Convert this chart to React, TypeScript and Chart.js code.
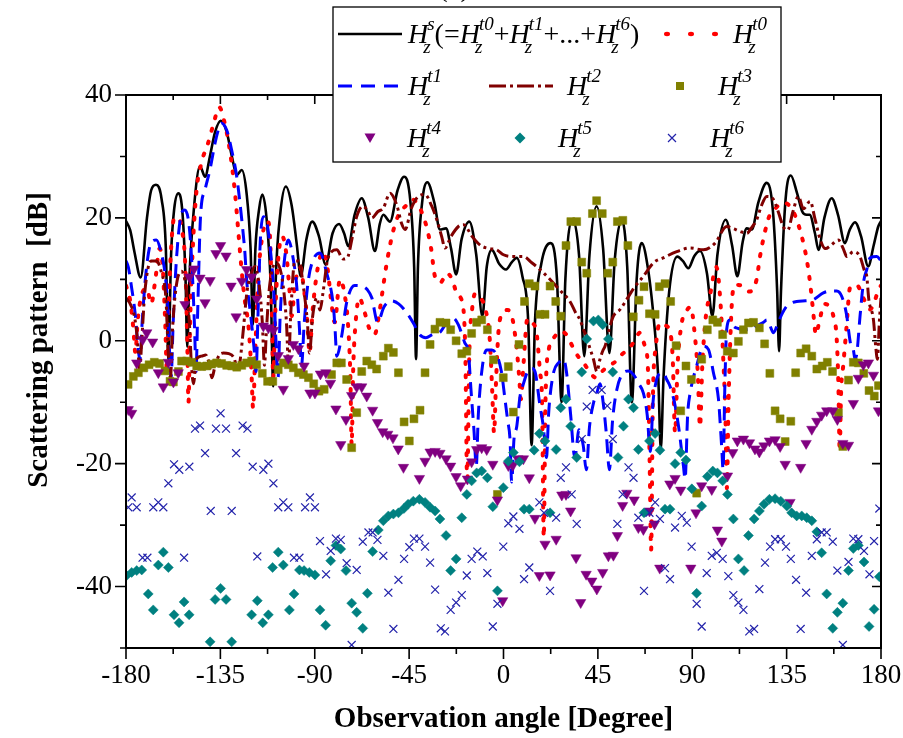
import React, { useEffect, useRef } from "react";
import { Chart, registerables } from "chart.js";

Chart.register(...registerables);

type Pt = [number, number];

const SERIF = '"Liberation Serif", "Times New Roman", Times, serif';

// ---------- axes ----------
const xMin = -180;
const xMax = 180;
const yMin = -50;
const yMax = 40;
const xMajorTicks = [-180, -135, -90, -45, 0, 45, 90, 135, 180];
const xMinorTicks = [-157.5, -112.5, -67.5, -22.5, 22.5, 67.5, 112.5, 157.5];
const yMajorTicks = [-40, -20, 0, 20, 40];
const yMinorTicks = [-50, -30, -10, 10, 30];
const xAxisTitle = "Observation angle [Degree]";
const yAxisTitle = "Scattering pattern  [dB]";
const panelLabel = "(a)";

// ---------- series: [angle (deg), level (dB)] ----------
const hsCurve: Pt[] = [
  [-180, 19.5], [-178, 18], [-176, 14.5], [-173, 10.3], [-170, 20], [-168, 24.5], [-165.7, 25.4], [-163, 23], [-161, 15], [-159.8, -3],
  [-158.5, 14], [-157, 21.5], [-155, 24], [-153, 20.5], [-151.6, 10], [-150.8, -1], [-149.8, 10], [-147.5, 22], [-144.7, 28.4], [-142.3, 26.7],
  [-140, 30], [-137.5, 34], [-134.8, 35.8], [-132, 34], [-129.5, 30], [-127.2, 27], [-124.8, 27.8], [-122.5, 24], [-120.6, 15], [-119.5, 2.6],
  [-118.3, 15], [-116.5, 21.5], [-115, 23.8], [-113, 20], [-111, 9], [-109.8, -7.4], [-108.6, 10], [-106.5, 20.5], [-103.8, 25.1], [-101, 22],
  [-98.5, 15.5], [-96.7, 10.5], [-94, 16.5], [-91.2, 19.4], [-88, 17], [-84.8, 12.4], [-81.5, 17.5], [-78.4, 19], [-76, 17.5], [-74, 15.4],
  [-71, 20.5], [-67.6, 23.2], [-64.5, 20], [-61.3, 14.6], [-59, 19], [-57.3, 20.5], [-54.1, 19.4], [-50.5, 24.5], [-47.4, 26.7], [-44.5, 23],
  [-42.6, 12], [-41.7, -3], [-40.8, 12], [-38.8, 22.5], [-36.3, 25.8], [-33, 22.5], [-30.3, 18.1], [-27.4, 18.3], [-25, 15], [-22.6, 10.8],
  [-20, 16.5], [-16.3, 19.4], [-13, 14], [-10.1, 4], [-8, 12], [-5.6, 14.8], [-2, 12.5], [1.2, 11.6], [4, 12.8], [6.3, 13.5],
  [9, 10.5], [11.8, 3], [13.4, -17], [15, 3], [18, 12.5], [22.5, 15.9], [25.5, 10], [27.7, -10], [29.5, 10], [33, 19.7],
  [36, 14], [38.5, -2.5], [41, 14], [44.4, 21.9], [47.5, 15], [50.5, -2], [53, 13], [56.4, 19.7], [59, 12], [61.2, -10],
  [63.5, 10], [65.9, 15.9], [69, 11.5], [71.8, 3], [73.8, -6], [75, -17.7], [76.3, -6], [79, 8], [82.9, 13.7], [85.5, 13],
  [88.1, 11.8], [91, 13.8], [93.7, 14.6], [97, 11], [99.6, 4], [102, 14], [106, 19.7], [109, 15.5], [111.5, 10.5], [114, 16],
  [116, 18.3], [118.4, 18.1], [121.5, 22.5], [125.5, 25.7], [128.5, 21], [130.5, 8], [131.4, -1.7], [132.3, 8], [134.5, 23], [137, 26.9],
  [140, 24], [142.5, 21], [144.5, 20.5], [146, 20.5], [148.5, 17.5], [150.2, 14.8], [153, 20], [156.5, 23.2], [159.5, 20.5], [162.8, 15.9],
  [165, 18], [167.6, 19.3], [170.5, 17], [173.9, 12.1], [176.5, 15.5], [178.7, 18.6], [180, 19.5],
];

const t0Curve: Pt[] = [
  [-180, 9], [-178, 6.5], [-176.5, 2], [-175.5, -2], [-174.5, 3], [-172.5, 7.5], [-170, 8.5], [-168, 6], [-166, 10], [-164, 15],
  [-162.5, 12], [-161.3, 3], [-160.5, -5], [-159.7, 5], [-158.5, 15], [-157, 20], [-155, 20], [-153.3, 18], [-151.7, 12], [-150.8, 0],
  [-150.2, -10], [-149.5, 2], [-148.3, 14], [-146.5, 24], [-144, 29], [-141, 32], [-138.5, 35], [-135.5, 38], [-133, 35.5], [-130.5, 31],
  [-128, 24], [-126.5, 18], [-125, 12], [-123.5, 7], [-121.5, 2], [-120.2, -5], [-119.4, -11], [-118.4, -2], [-117, 10], [-115, 17],
  [-112.5, 19.5], [-111, 14], [-110.3, 2], [-109.8, -6], [-109, 3], [-107.5, 13], [-105.5, 17], [-103.5, 14], [-102, 8], [-101, 4],
  [-99.5, 9], [-97, 12], [-95, 8], [-93.5, 3], [-92.5, -2], [-91, 5], [-88.5, 12], [-86, 14.5], [-84, 12], [-82, 6],
  [-80.5, 3], [-78, 10], [-76, 8], [-74, 2], [-73, -6], [-72.4, -17], [-71.7, -5], [-70.5, 3], [-68.8, 7], [-66.5, 5],
  [-64, 2], [-61.5, 1], [-59, 5], [-57.3, 9], [-55.5, 13], [-52.5, 18], [-50, 20.5], [-46.5, 22], [-43.5, 23], [-41, 22.3],
  [-38.5, 20.5], [-36.5, 18.3], [-34.5, 15], [-32.7, 10.5], [-30, 9.5], [-27, 11], [-24.5, 10], [-22, 7.5], [-19.5, 6], [-18.2, -2],
  [-17.3, -23.5], [-16.3, -2], [-15, 5], [-13.5, 7.7], [-11, 7], [-8.5, 5], [-6.5, 0], [-5.4, -8], [-4.5, -15], [-3.6, -7],
  [-2.5, 1], [-0.9, 4.3], [2, 5], [4, 4], [5.5, 1], [6.5, -2], [7.5, -6], [8.3, -9.5], [9.5, -4], [11.4, 3.6],
  [13.5, 3], [15.8, 1.2], [17.4, -5], [18.4, -10], [19.2, -32], [20, -10], [21.7, -1.2], [24, 0.5], [27, 1.5], [30, 1],
  [33, -1], [35.5, -2.5], [38, -3.5], [41, -5], [44, -6], [47, -5], [50, -4], [53, -3.5], [56.5, -2.2], [59.6, -1.4],
  [62.5, 0], [65, 1.3], [67.5, -1], [68.8, -4], [69.7, -20], [70.4, -34], [71.2, -10], [72.7, -0.8], [74.6, 2.9], [77, 2.5],
  [79.4, 1.5], [80.7, -3], [81.8, -15], [83, -4], [85, 2.9], [87.5, 5], [89.3, 5.5], [91.2, 1], [92.6, -5], [93.7, -14],
  [94.8, -4], [96.5, 4], [98.5, 7.5], [101.5, 12], [103.5, 6], [104.8, -3], [105.8, -12], [106.5, -24], [107.3, -10], [108.8, 5.6],
  [110.4, 9.1], [113.5, 9], [117.2, 8], [120.7, 10], [122.3, 13.7], [124.7, 17.8], [127, 20.5], [129.5, 21.5], [133.5, 22.5], [138.2, 21],
  [142.2, 17], [144.6, 13.2], [146.2, 9.4], [147.5, 5.3], [149, 1], [150.5, 3], [153, 6], [155.5, 5.5], [157.3, 4], [158.9, 0.2],
  [159.7, -7.4], [160.3, -18], [161, -8], [162, -4], [163.5, 2], [165.2, 8.6], [168.4, 9.1], [171.5, 7], [174.8, 5.1], [176.5, 6],
  [178.8, 8.3], [180, 9],
];

const t1Curve: Pt[] = [
  [-180, 13], [-178.9, 12], [-177.3, 8.6], [-175.5, 4], [-174.3, -1], [-173.3, -3], [-172.3, 3], [-170.5, 11], [-168, 16], [-165.5, 16.4],
  [-163, 14], [-161.4, 11], [-160, 5], [-159.2, -2], [-158.5, -6], [-157.5, 3], [-156, 13], [-154, 20], [-152, 21.3], [-150, 19],
  [-148.5, 12], [-147.3, 2], [-146.6, -5], [-145.8, 5], [-144.5, 20], [-142.3, 24.6], [-140, 27.8], [-137, 33], [-134.5, 35.4], [-132, 34.3],
  [-129.6, 31], [-127.2, 26.7], [-124.8, 19.7], [-123.3, 14.3], [-122.5, 10], [-120.5, 4], [-119, -1], [-118, -5], [-117, 5], [-116, 16],
  [-114.5, 20.2], [-113, 19.5], [-111, 14.3], [-109.7, 8.9], [-108.5, 0], [-107.5, -6], [-106.5, 4], [-104.5, 13], [-102.6, 16.4], [-100.2, 13.2],
  [-98.6, 8.9], [-97.3, 2], [-96.3, -4], [-95, 3], [-93, 10], [-90.7, 13.2], [-87.5, 14.3], [-84.3, 11], [-81.1, 5.6], [-80.3, 1.8],
  [-79.5, -2.5], [-77.2, 0.7], [-74.8, 6.2], [-71, 9], [-67.6, 8.9], [-64.9, 8.3], [-62.8, 7], [-60, 3], [-57, 5.5], [-53.5, 6.5],
  [-50, 6], [-46, 4.5], [-43, 2.9], [-40, 1], [-37, 0.5], [-34, 1], [-30, 1.5], [-27, 3], [-24, 3.7], [-21.5, 2.6],
  [-18.5, -0.3], [-16.7, -2], [-15.5, -8], [-14, -15], [-13, -20.5], [-12, -12], [-10, -4], [-8, -1.5], [-5.5, -1.5], [-3, -2.5],
  [-1, -5], [0.7, -9.5], [2, -13], [3.1, -16], [3.9, -23], [5, -16], [6.3, -14], [7.9, -9], [9.5, -7], [11.5, -5],
  [13.5, -4.5], [15, -5], [17.4, -10.6], [19, -14], [20.5, -19], [21.5, -12], [22.2, -9], [24, -5], [26.2, -3.6], [28.6, -3],
  [30, -5], [32, -12], [34, -19], [36, -14.5], [38, -17], [39.5, -21], [41, -14], [43, -10], [44.5, -8.5], [46, -7],
  [47.5, -10], [49, -15], [50.5, -21], [52, -13], [54, -8], [56.5, -5.5], [59.5, -4.9], [62, -5.5], [64.5, -7], [66.7, -8.5],
  [68.5, -12], [70, -18], [71.3, -10], [72.3, -7.4], [74, -5.5], [76.2, -5.2], [77.8, -6.3], [79.4, -7.4], [81.5, -10], [83.5, -14],
  [85.8, -20.4], [86.6, -22.5], [87.8, -12], [89, -8.5], [92.1, -4.1], [95.3, -0.9], [97.7, -1.4], [100.1, -5.2], [102.5, -9.5], [103.3, -13.3],
  [104.1, -17.7], [104.7, -21], [105.5, -8], [106.4, 1.8], [108, 3.4], [109.6, 2.4], [112, 2], [115, 1.8], [118.4, 1.8], [121, 2.5],
  [124, 3], [125.5, 3.4], [127, 2.5], [128.7, 1.3], [131, 3], [133, 4.5], [135, 5.6], [139.8, 6.4], [144, 6.5], [147.8, 6.7],
  [152.5, 7.8], [156, 8.1], [158.9, 8.1], [161.3, 7.2], [163.7, 4], [164.5, 1.8], [165.5, -0.5], [166.8, -1.4], [167.6, -3], [168.5, -2],
  [170, 4], [171.6, 9.4], [173.2, 11.6], [174.8, 13.5], [178, 13.7], [180, 13],
];

const t2Curve: Pt[] = [
  [-180, 7], [-178, 6], [-176, 4], [-174.5, 0], [-173.5, -5], [-172.5, 0], [-171, 8], [-168, 13], [-165.5, 13], [-163, 11],
  [-161, 7], [-159.8, -2], [-158.8, -6], [-157.8, 2], [-156, 9], [-153.5, 11.3], [-151.5, 9], [-149.8, 3], [-148.8, -4], [-147.8, -7],
  [-146.5, -3], [-144, -2.5], [-142, -2.3], [-140.5, -3.5], [-139, -6], [-137.5, -4], [-135.5, -2.3], [-133.5, -2], [-131, -2.1], [-128.5, -2.8],
  [-126.5, -5], [-125.5, -3], [-124, 2], [-122.3, 8], [-120.2, 11], [-118.5, 12.1], [-116.5, 9], [-115, 3], [-114, -4], [-113, 2],
  [-111.5, 9], [-108.5, 12.7], [-105.5, 10], [-103.5, 3], [-102.5, -4], [-101.5, 4], [-99.5, 13], [-97.5, 13], [-95.5, 9], [-93.5, 3],
  [-92.5, -2], [-91, 4], [-89, 7], [-87.5, 5], [-86, 8], [-84, 13], [-82, 14.5], [-79.5, 14.8], [-76.5, 13.3], [-74.5, 13.5],
  [-72, 17], [-70, 20.2], [-67, 21.9], [-64.5, 21], [-62.8, 20], [-60, 21], [-57.3, 21.6], [-54.1, 24], [-50.9, 22.1], [-48.5, 19],
  [-46.9, 18.1], [-44, 21.5], [-40.6, 23.5], [-37.4, 23.8], [-34.2, 21.9], [-31.8, 19.7], [-29.5, 17], [-27.9, 15.1], [-25, 17], [-21.5, 18.6],
  [-19.1, 18.9], [-15, 17], [-12.5, 16], [-10.4, 15.4], [-6.5, 15], [-3.2, 14.8], [0, 14], [3.9, 13.7], [9.5, 13.7], [13.5, 12.7],
  [17.4, 11.6], [23, 9.7], [27.5, 8], [31.7, 6.4], [34.5, 4.5], [36.5, 3.4], [38.5, 1.5], [39.7, 0.7], [41, -1], [42.9, -3],
  [44.5, -5], [46, -3], [47.5, -1.5], [48.4, -0.9], [50.5, 2], [52.4, 4], [55.6, 5.1], [58.7, 6.7], [62, 8.5], [66.7, 10.5],
  [71.5, 12.7], [76.2, 13.5], [82.6, 14.5], [88.9, 15.1], [95.3, 14.8], [100.9, 15.9], [106.4, 18.6], [110, 18.2], [112.8, 17.8], [116, 17.5],
  [118.5, 18.5], [120.7, 19.7], [123, 22], [125.5, 23.5], [128.7, 23], [131, 21], [133.5, 18.5], [135.5, 18], [138, 21], [140.6, 23.5],
  [143, 21.5], [146.2, 22.7], [148.6, 19.7], [151, 16.5], [153.5, 15], [156, 15.5], [159.7, 16.4], [162, 15], [163.7, 13.7], [166.8, 14.5],
  [170, 13.7], [172, 11.5], [173.2, 10.5], [174.2, 6.7], [176.4, 3.4], [177.5, -1], [178.3, -3], [179.2, 3], [180, 7],
];

const t3Points: Pt[] = [
  [-179, -7.1], [-176.5, -5.8], [-174.1, -5.2], [-171.5, -4.4], [-169, -3.9], [-166.5, -3.5], [-164, -3.7], [-161.4, -4.9], [-159, -6.6], [-157.4, -6.7],
  [-155, -5], [-153.5, -3.3], [-151.1, -3.3], [-148.7, -3.5], [-146.3, -4.1], [-143.9, -4.2], [-141.5, -4.1], [-139.2, -3.8], [-136.8, -3.6], [-134.4, -3.7],
  [-132, -4], [-129.6, -4.1], [-127.2, -4.3], [-124.8, -4], [-122.5, -3.6], [-120.1, -3.3], [-117.7, -3.9], [-115, -5.3], [-112.5, -6.6], [-110, -6.6],
  [-107.4, -4.7], [-105, -3.6], [-102.6, -3.9], [-100.2, -4.4], [-97.8, -5.2], [-95.4, -5.5], [-93, -6], [-90.5, -7], [-88, -8.2], [-85.5, -7.9],
  [-82, -5.5], [-79.5, -3.6], [-77.3, -3.6], [-74.8, -6.3], [-72.4, -17.4], [-70, -11.7], [-67.6, -5], [-65.2, -3.3], [-62.8, -3.9], [-60.5, -4.6],
  [-57.3, -2.5], [-54.9, -1.2], [-52.5, -1.9], [-50.1, -5.2], [-47.4, -13.2], [-44.9, -16.3], [-42.7, -12.7], [-39.8, -11.3], [-37.4, -5.2], [-35, -0.6],
  [-32.7, 1.9], [-30.3, 3], [-27.4, 2.9], [-25.2, 1.8], [-22.6, 0], [-19.9, -2.1], [-17.5, -1.7], [-15.2, 1.2], [-12.8, 3], [-10.4, 3.4],
  [-7.7, 1.8], [-4.8, -3.1], [-2.9, -25], [-0.1, -6], [2.3, -4.2], [4.7, -11.6], [7.4, -0.6], [10, 6.4], [12.3, 9.3], [15, 8.9],
  [17.4, 4.3], [19.8, 4.3], [22.2, 8.9], [24.9, 6.4], [27.3, 4], [29.8, 15.5], [32.1, 19.4], [34.9, 19.4], [37.3, 12.8], [39.7, 11],
  [42.4, 20.7], [44.4, 22.8], [47.1, 20.7], [49.7, 11], [52.1, 12.8], [54.3, 19.4], [56.9, 19.6], [59.3, 15.5], [61.9, 3.9], [64.6, 6.6],
  [67, 8.8], [69.6, 4.4], [72.3, 4.3], [74.3, 8.8], [77, 9.3], [79.7, 6.4], [82.3, -0.8], [84.5, -11.4], [87, -4.1], [89.6, -6.3],
  [92.1, -24.8], [94.5, -3], [97.2, 1.8], [99.8, 3.4], [102, 3], [104.5, 1], [106.7, -1.7], [109.6, -2], [112, -0.1], [114.4, 1.8],
  [116.8, 2.9], [119.2, 3], [122, 2.1], [124.5, -0.5], [127, -5.3], [129.5, -11.4], [131.9, -12.7], [134.3, -16.4], [137, -13.1], [139.3, -5.2],
  [141.7, -2], [144.3, -1.3], [147, -2.5], [149.4, -4.6], [152, -4.1], [154.4, -3.5], [156.9, -5], [159.7, -11.7], [161.8, -17.2], [164.5, -6.4],
  [166.8, -3.5], [169.2, -3.6], [171.8, -5.3], [174.3, -8.1], [176.8, -9], [178.8, -7.3],
];

const t4Points: Pt[] = [
  [-178.9, -11.2], [-177.3, -11.8], [-174.9, -3.6], [-172, 0.2], [-170.1, 1.3], [-167.3, -0.2], [-164.6, -5.2], [-162.2, -7.5], [-159.8, -3.5], [-157.4, -6.7],
  [-155.1, -5.2], [-151.9, 5.9], [-149.8, 10.4], [-147.6, 11.7], [-144.7, 10.2], [-142.3, 6.2], [-139.9, 9.8], [-137.1, 14.2], [-134.9, 15.5], [-132.3, 13.8],
  [-129.9, 8.9], [-127.5, 3.9], [-124.8, 9.7], [-122.5, 11.6], [-120.1, 10.4], [-117.7, 6.8], [-114.5, 2.4], [-112.1, 2.1], [-109.7, 1.7], [-107.4, -2.4],
  [-105, -7.9], [-102.6, -2.9], [-100.2, -0.6], [-97.8, -1.3], [-95.1, -4.1], [-92.3, -8.5], [-89.9, -8.5], [-87.3, -5.4], [-84.7, -5.2], [-82.5, -6.9],
  [-79.9, -11.1], [-77.6, -16.9], [-75.1, -12.8], [-72.4, -8.9], [-70, -7.5], [-67.6, -7.5], [-65.2, -9], [-62.4, -11.3], [-60.1, -13.3], [-57.6, -14.8],
  [-55.2, -15.2], [-52.7, -15.8], [-50.2, -17.6], [-47.7, -20.6], [-40.1, -22.4], [-37.4, -19.6], [-35, -18.1], [-32.6, -18], [-30.3, -18.3], [-27.4, -19.2],
  [-25.2, -20.4], [-22.6, -22.1], [-20.4, -23.6], [-17.2, -22.5], [-15.2, -19.7], [-12.8, -17.7], [-10.4, -17.4], [-8, -17.7], [-5.1, -20.1], [-2.9, -25.9],
  [-0.4, -42.3], [2.3, -20.3], [4.4, -20.3], [6.8, -19.2], [9.5, -19.2], [12.3, -22.3], [15, -28.9], [17.1, -38.2], [19.8, -33.1], [22.2, -38.1],
  [25.1, -32.3], [27.8, -25.1], [29.8, -25], [32, -27.7], [34.6, -35.3], [36.8, -42.6], [39.4, -38], [42.1, -39.1], [44.5, -40.4], [47.3, -37.7],
  [50, -35], [52.4, -34.9], [54.3, -31.7], [56.8, -26.8], [58.8, -24.8], [62.3, -25.9], [64.3, -30.4], [66.7, -30.7], [69.6, -27.7], [72, -29.8],
  [74.5, -37], [79.3, -23.3], [81.8, -22.4], [84.5, -24.3], [89.3, -37], [91.8, -28], [94.5, -23.6], [99.3, -24.2], [102, -30.8], [104.1, -32.6],
  [106.8, -22], [109.3, -18.2], [111.5, -16.3], [114.4, -16], [117.3, -16.6], [119.9, -17.6], [122, -18.1], [124.2, -17.1], [126.8, -16.3], [129.5, -16.1],
  [131.9, -17.2], [134.3, -20.1], [136.6, -26.3], [141.7, -20.6], [144.3, -16.7], [147, -14.4], [149.4, -13.1], [151.7, -12.1], [154.1, -11.4], [157, -11.4],
  [159.2, -12.8], [161.8, -16.7], [164.5, -17], [166.8, -10.2], [169.2, -6.1], [171.6, -3.9], [174, -3.6], [176.4, -5.6], [178.8, -11.4],
];

const t5Points: Pt[] = [
  [-179.7, -38.2], [-177.3, -37.7], [-174.9, -37.4], [-172.5, -37.3], [-169.4, -41.2], [-167, -43.8], [-164.6, -36.5], [-162.2, -34.4], [-159.8, -36.9], [-157.1, -44.6],
  [-154.7, -45.9], [-152.3, -42.5], [-149.9, -44.6], [-139.9, -49], [-137.5, -42.1], [-134.9, -40.3], [-132.3, -42.1], [-129.6, -49], [-120.1, -44.6], [-117.4, -42.3],
  [-114.8, -45.9], [-112.1, -44.6], [-110.1, -36.9], [-107.4, -34.4], [-105, -36.5], [-102.1, -43.8], [-99.9, -41.2], [-97.3, -37.3], [-95.1, -37.4], [-92.6, -37.7],
  [-89.9, -38.1], [-87.5, -43.8], [-84.8, -46.3], [-82.4, -35.8], [-79.9, -33.3], [-77.6, -33.9], [-75.1, -37.4], [-72.4, -42.7], [-70, -44.2], [-67.1, -46.8],
  [-64.9, -41.1], [-62.4, -34.3], [-59.7, -30.8], [-57.3, -29.3], [-54.9, -28.5], [-52.5, -28.2], [-50.1, -28], [-47.5, -27.3], [-45.5, -26.6], [-43, -26.1],
  [-40.1, -25.8], [-37.4, -26.3], [-35, -27.1], [-32.6, -27.7], [-30.3, -29], [-27.4, -31.7], [-25.2, -37.4], [-22.6, -35.5], [-19.9, -28.8], [-17.5, -25],
  [-15.2, -22.8], [-12.8, -21.5], [-10.4, -21.2], [-7.7, -22.3], [-5.1, -27], [-2.9, -40.7], [-0.1, -23.9], [2.3, -19.6], [4.7, -18.2], [7.6, -19.7],
  [9.8, -27.4], [12.3, -27.4], [14.6, -17.8], [17.1, -15.1], [19.8, -16.3], [22.2, -28], [25.1, -17.7], [27.3, -10.9], [29.8, -9.5], [32, -13.9],
  [34.9, -19], [37.3, -5.1], [39.7, 0.3], [42.9, 3.2], [45.2, 3.4], [47.3, 2.6], [50, 0.3], [52.1, -5.1], [54.6, -19], [57.2, -13.9],
  [59.6, -9.5], [62, -10.9], [64.3, -17.7], [67, -28], [69.6, -16.3], [72.3, -15.1], [74.6, -17.8], [77, -27.4], [79.4, -27.4], [81.8, -20],
  [84.5, -18.2], [87, -19.4], [89.8, -24.1], [92.1, -41.1], [94.5, -26.9], [97.2, -22.1], [99.8, -21.2], [102, -21.5], [104.5, -22.8], [106.8, -25],
  [109.6, -29], [112, -35.5], [114.7, -37.4], [116.8, -31.7], [119.5, -29], [122, -27.7], [124.2, -26.6], [126.8, -25.8], [129.5, -25.7], [132.2, -26.1],
  [135.1, -26.9], [137.4, -28], [139.8, -28.5], [142.2, -28.5], [144.6, -28.8], [147, -29.3], [149.4, -31.1], [151.7, -34.5], [154.1, -41.2], [157, -46.8],
  [159.2, -44.2], [161.8, -42.7], [164.5, -37.4], [166.8, -33.8], [169.2, -33.3], [171.9, -36], [174.3, -46.5], [176.7, -43.7], [179.2, -38.4],
];

const t6Points: Pt[] = [
  [-178.9, -27.1], [-177.3, -25.5], [-174.9, -27.1], [-172.1, -35.3], [-169.8, -35.3], [-167, -27.1], [-164.6, -26.3], [-162.2, -27.1], [-159.8, -23.2], [-157.1, -20.1],
  [-154.6, -21], [-152.3, -35.3], [-149.8, -20.5], [-147.1, -14.3], [-144.7, -13.8], [-142.3, -18.3], [-139.6, -27.7], [-137.1, -14.3], [-134.9, -11.8], [-132.3, -14.3],
  [-129.6, -27.7], [-127.5, -18.3], [-124.4, -13.8], [-122.1, -14.3], [-119.6, -20.5], [-117.4, -35.1], [-114.5, -21], [-112.1, -20], [-109.7, -23.2], [-107.4, -27.1],
  [-105, -26.3], [-102.6, -27.1], [-99.9, -35.3], [-97.3, -35.3], [-94.6, -27.1], [-92.3, -25.5], [-89.9, -27.1], [-87.5, -32.6], [-84.6, -38], [-82.4, -34.2],
  [-79.9, -32.2], [-77.6, -32.4], [-74.8, -36.2], [-72.4, -49.5], [-70, -37.3], [-67.1, -32.7], [-64.4, -31.2], [-62.4, -31.2], [-60.1, -32.4], [-57.3, -35],
  [-54.9, -41], [-52.5, -46.9], [-50.1, -38.9], [-47.4, -35.5], [-44.9, -33.6], [-42.7, -32.2], [-40.1, -32.2], [-37.4, -33.5], [-35, -36.1], [-32.6, -40.5],
  [-29.9, -46.8], [-27.9, -47.3], [-25.2, -43.8], [-22.6, -42.6], [-19.9, -41.4], [-17.5, -38.2], [-15.2, -35.5], [-12.5, -34.3], [-9.9, -35.1], [-7.7, -37.8],
  [-5.1, -46.5], [-2.9, -42.8], [-0.1, -33.5], [2.3, -29.7], [4.7, -28.6], [7.6, -30.6], [9.8, -38.8], [12.3, -36.9], [17.1, -26.3], [19.3, -28],
  [22.2, -40.7], [25.1, -28.8], [27.3, -22.3], [29.8, -20.6], [32.5, -25], [34.9, -29.8], [37.3, -16], [39.7, -10.7], [42.5, -8], [46.8, -8],
  [49.5, -10.6], [52.1, -16], [54.3, -29.8], [56.8, -25], [59.6, -20.6], [62, -22.3], [64.3, -28.8], [67, -40.7], [69.6, -28], [72.3, -26.3],
  [74.6, -29], [77, -37], [79.4, -38.8], [81.8, -30.4], [85, -28.5], [87.4, -29.6], [89.7, -33.5], [92.1, -42.8], [94.5, -46.5], [96.9, -37.8],
  [99.3, -35], [101.7, -34.5], [104.5, -35.5], [107.2, -38.3], [109.6, -41.4], [112, -42.6], [114.4, -43.8], [117.2, -47.3], [119.5, -46.9], [122, -40.4],
  [124.7, -36.1], [127.1, -33.5], [129.5, -32.3], [132.2, -32.3], [134.7, -33.5], [137, -35.5], [139.5, -38.9], [141.7, -46.9], [144.3, -41], [147, -35],
  [149.4, -32.3], [151.7, -31.2], [154.1, -31.2], [157, -32.7], [159.2, -37.4], [161.8, -49.5], [164.5, -36], [166.8, -32.2], [169.2, -32.3], [171.9, -34.2],
  [174.5, -38], [176.7, -32.6], [179.2, -27.3],
];

// ---------- colours ----------
const C_HS = "#000000";
const C_T0 = "#ff0000";
const C_T1 = "#0000ff";
const C_T2 = "#800000";
const C_T3 = "#808000";
const C_T4 = "#800080";
const C_T5 = "#008080";
const C_T6 = "#2222aa";

const toXY = (arr: Pt[]) => arr.map(([x, y]) => ({ x, y }));

function drawHz(ctx: CanvasRenderingContext2D, x: number, base: number, sup: string): number {
  ctx.textAlign = "left";
  ctx.textBaseline = "alphabetic";
  ctx.font = `italic 28px ${SERIF}`;
  ctx.fillText("H", x, base);
  const wH = ctx.measureText("H").width;
  ctx.font = `italic 19px ${SERIF}`;
  ctx.fillText(sup, x + wH - 1, base - 13);
  ctx.fillText("z", x + wH - 5, base + 10);
  const w = Math.max(ctx.measureText(sup).width, ctx.measureText("z").width - 4);
  return x + wH - 1 + w;
}

function drawText(ctx: CanvasRenderingContext2D, s: string, x: number, base: number): number {
  ctx.font = `28px ${SERIF}`;
  ctx.textAlign = "left";
  ctx.fillText(s, x, base);
  return x + ctx.measureText(s).width;
}

function drawLegend(ctx: CanvasRenderingContext2D) {
  const x0 = 333, y0 = 7, x1 = 781, y1 = 162;
  ctx.save();
  ctx.fillStyle = "#ffffff";
  ctx.fillRect(x0, y0, x1 - x0, y1 - y0);
  ctx.strokeStyle = "#000";
  ctx.lineWidth = 1.3;
  ctx.strokeRect(x0, y0, x1 - x0, y1 - y0);

  const r1 = 34, r2 = 86, r3 = 138;
  const b1 = 43, b2 = 95, b3 = 147;

  // row 1: total (solid black)
  ctx.strokeStyle = C_HS;
  ctx.lineWidth = 2.5;
  ctx.setLineDash([]);
  ctx.beginPath(); ctx.moveTo(338, r1); ctx.lineTo(402, r1); ctx.stroke();
  ctx.fillStyle = "#000";
  let x = drawHz(ctx, 408, b1, "s");
  x = drawText(ctx, "(=", x, b1);
  x = drawHz(ctx, x, b1, "t0");
  x = drawText(ctx, "+", x, b1);
  x = drawHz(ctx, x, b1, "t1");
  x = drawText(ctx, "+...+", x, b1);
  x = drawHz(ctx, x, b1, "t6");
  drawText(ctx, ")", x, b1);

  // red dotted
  ctx.fillStyle = C_T0;
  [667, 691, 715].forEach((cx) => {
    ctx.beginPath(); ctx.ellipse(cx, r1, 3, 2.2, 0, 0, Math.PI * 2); ctx.fill();
  });
  ctx.fillStyle = "#000";
  drawHz(ctx, 733, b1, "t0");

  // row 2: blue dashed
  ctx.strokeStyle = C_T1;
  ctx.lineWidth = 3;
  ctx.setLineDash([14, 9]);
  ctx.beginPath(); ctx.moveTo(338, r2); ctx.lineTo(402, r2); ctx.stroke();
  ctx.setLineDash([]);
  drawHz(ctx, 408, b2, "t1");

  // dark red dash-dot
  ctx.strokeStyle = C_T2;
  ctx.lineWidth = 3;
  ctx.setLineDash([17, 4, 3, 4]);
  ctx.beginPath(); ctx.moveTo(489, r2); ctx.lineTo(553, r2); ctx.stroke();
  ctx.setLineDash([]);
  drawHz(ctx, 567, b2, "t2");

  // olive square
  ctx.fillStyle = C_T3;
  ctx.fillRect(680 - 4, r2 - 4, 8, 8);
  ctx.fillStyle = "#000";
  drawHz(ctx, 718, b2, "t3");

  // row 3: purple down triangle
  ctx.fillStyle = C_T4;
  ctx.beginPath(); ctx.moveTo(370 - 5.5, r3 - 4.5); ctx.lineTo(370 + 5.5, r3 - 4.5); ctx.lineTo(370, r3 + 5); ctx.closePath(); ctx.fill();
  ctx.fillStyle = "#000";
  drawHz(ctx, 407, b3, "t4");

  // teal diamond
  ctx.fillStyle = C_T5;
  ctx.beginPath(); ctx.moveTo(520, r3 - 5.5); ctx.lineTo(525.5, r3); ctx.lineTo(520, r3 + 5.5); ctx.lineTo(514.5, r3); ctx.closePath(); ctx.fill();
  ctx.fillStyle = "#000";
  drawHz(ctx, 558, b3, "t5");

  // blue x
  ctx.strokeStyle = C_T6;
  ctx.lineWidth = 1.2;
  ctx.beginPath();
  ctx.moveTo(668, r3 - 4); ctx.lineTo(676, r3 + 4);
  ctx.moveTo(676, r3 - 4); ctx.lineTo(668, r3 + 4);
  ctx.stroke();
  ctx.fillStyle = "#000";
  drawHz(ctx, 710, b3, "t6");
  ctx.restore();
}

const framePlugin = {
  id: "frame",
  afterDraw(chart: any) {
    const { ctx, chartArea: ca } = chart;
    const xs = chart.scales.x;
    const ys = chart.scales.y;
    ctx.save();
    ctx.strokeStyle = "#000";
    ctx.lineWidth = 2;
    ctx.setLineDash([]);
    ctx.strokeRect(ca.left, ca.top, ca.right - ca.left, ca.bottom - ca.top);

    ctx.lineWidth = 1.6;
    ctx.beginPath();
    xMajorTicks.forEach((v) => {
      const p = xs.getPixelForValue(v);
      ctx.moveTo(p, ca.bottom); ctx.lineTo(p, ca.bottom + 11);
      ctx.moveTo(p, ca.top); ctx.lineTo(p, ca.top + 9);
    });
    xMinorTicks.forEach((v) => {
      const p = xs.getPixelForValue(v);
      ctx.moveTo(p, ca.bottom); ctx.lineTo(p, ca.bottom + 6);
      ctx.moveTo(p, ca.top); ctx.lineTo(p, ca.top + 5);
    });
    yMajorTicks.forEach((v) => {
      const p = ys.getPixelForValue(v);
      ctx.moveTo(ca.left - 11, p); ctx.lineTo(ca.left, p);
      ctx.moveTo(ca.right - 9, p); ctx.lineTo(ca.right, p);
    });
    yMinorTicks.forEach((v) => {
      const p = ys.getPixelForValue(v);
      ctx.moveTo(ca.left - 6, p); ctx.lineTo(ca.left, p);
      ctx.moveTo(ca.right - 5, p); ctx.lineTo(ca.right, p);
    });
    ctx.stroke();

    // axis titles
    ctx.fillStyle = "#000";
    ctx.font = `bold 29px ${SERIF}`;
    ctx.textAlign = "center";
    ctx.textBaseline = "alphabetic";
    ctx.fillText(xAxisTitle, (ca.left + ca.right) / 2, 727);
    ctx.save();
    ctx.translate(47, 340);
    ctx.rotate(-Math.PI / 2);
    ctx.fillText(yAxisTitle, 0, 0);
    ctx.restore();

    // panel label (mostly above the page edge)
    ctx.font = `29px ${SERIF}`;
    ctx.fillText(panelLabel, 454, -4);

    drawLegend(ctx);
    ctx.restore();
  },
};

export default function App() {
  const ref = useRef<HTMLCanvasElement>(null);

  useEffect(() => {
    document.body.style.margin = "0";
    const canvas = ref.current;
    if (!canvas) return;

    const lineBase = {
      pointRadius: 0,
      pointHoverRadius: 0,
      cubicInterpolationMode: "monotone" as const,
      fill: false,
      borderJoinStyle: "round" as const,
    };
    const markerBase = {
      showLine: false,
      pointHoverRadius: 0,
    };

    const chart = new Chart(canvas, {
      type: "line",
      data: {
        datasets: [
          { ...lineBase, label: "Hs", data: toXY(hsCurve), borderColor: C_HS, borderWidth: 2.6, order: 8 },
          { ...lineBase, label: "t0", data: toXY(t0Curve), borderColor: C_T0, borderWidth: 4, borderDash: [2, 11], borderCapStyle: "round", order: 7 },
          { ...lineBase, label: "t1", data: toXY(t1Curve), borderColor: C_T1, borderWidth: 3, borderDash: [14, 8], order: 6 },
          { ...lineBase, label: "t2", data: toXY(t2Curve), borderColor: C_T2, borderWidth: 3, borderDash: [13, 4, 3, 4, 3, 4], order: 5 },
          { ...markerBase, label: "t3", data: toXY(t3Points), pointStyle: "rect", pointRadius: 5.6, backgroundColor: C_T3, borderColor: C_T3, borderWidth: 0.5, order: 4 },
          { ...markerBase, label: "t4", data: toXY(t4Points), pointStyle: "triangle", pointRotation: 180, pointRadius: 6, backgroundColor: C_T4, borderColor: C_T4, borderWidth: 0.5, order: 3 },
          { ...markerBase, label: "t5", data: toXY(t5Points), pointStyle: "rectRot", pointRadius: 5, backgroundColor: C_T5, borderColor: C_T5, borderWidth: 0.5, order: 2 },
          { ...markerBase, label: "t6", data: toXY(t6Points), pointStyle: "crossRot", pointRadius: 5.6, backgroundColor: C_T6, borderColor: C_T6, borderWidth: 1.2, order: 1 },
        ] as any,
      },
      options: {
        responsive: false,
        animation: false,
        devicePixelRatio: 1,
        events: [],
        layout: { padding: { left: 0, right: 22, top: 95, bottom: 0 } },
        plugins: { legend: { display: false }, tooltip: { enabled: false }, title: { display: false } },
        scales: {
          x: {
            type: "linear",
            min: xMin,
            max: xMax,
            afterBuildTicks: (s: any) => { s.ticks = xMajorTicks.map((value) => ({ value })); },
            afterFit: (s: any) => { s.height = 90; s.paddingLeft = 0; s.paddingRight = 0; },
            grid: { display: false, drawTicks: false },
            border: { display: false },
            ticks: {
              color: "#000",
              font: { family: SERIF, size: 27 },
              padding: 12,
              maxRotation: 0,
              autoSkip: false,
              callback: (v: any) => String(v),
            },
          },
          y: {
            type: "linear",
            min: yMin,
            max: yMax,
            afterBuildTicks: (s: any) => { s.ticks = yMajorTicks.map((value) => ({ value })); },
            afterFit: (s: any) => { s.width = 126; s.paddingTop = 0; s.paddingBottom = 0; },
            grid: { display: false, drawTicks: false },
            border: { display: false },
            ticks: {
              color: "#000",
              font: { family: SERIF, size: 27 },
              padding: 14,
              autoSkip: false,
              callback: (v: any) => String(v),
            },
          },
        },
      } as any,
      plugins: [framePlugin],
    });

    return () => chart.destroy();
  }, []);

  return (
    <canvas
      ref={ref}
      width={903}
      height={738}
      style={{ display: "block", width: "903px", height: "738px", background: "#fff" }}
    />
  );
}
